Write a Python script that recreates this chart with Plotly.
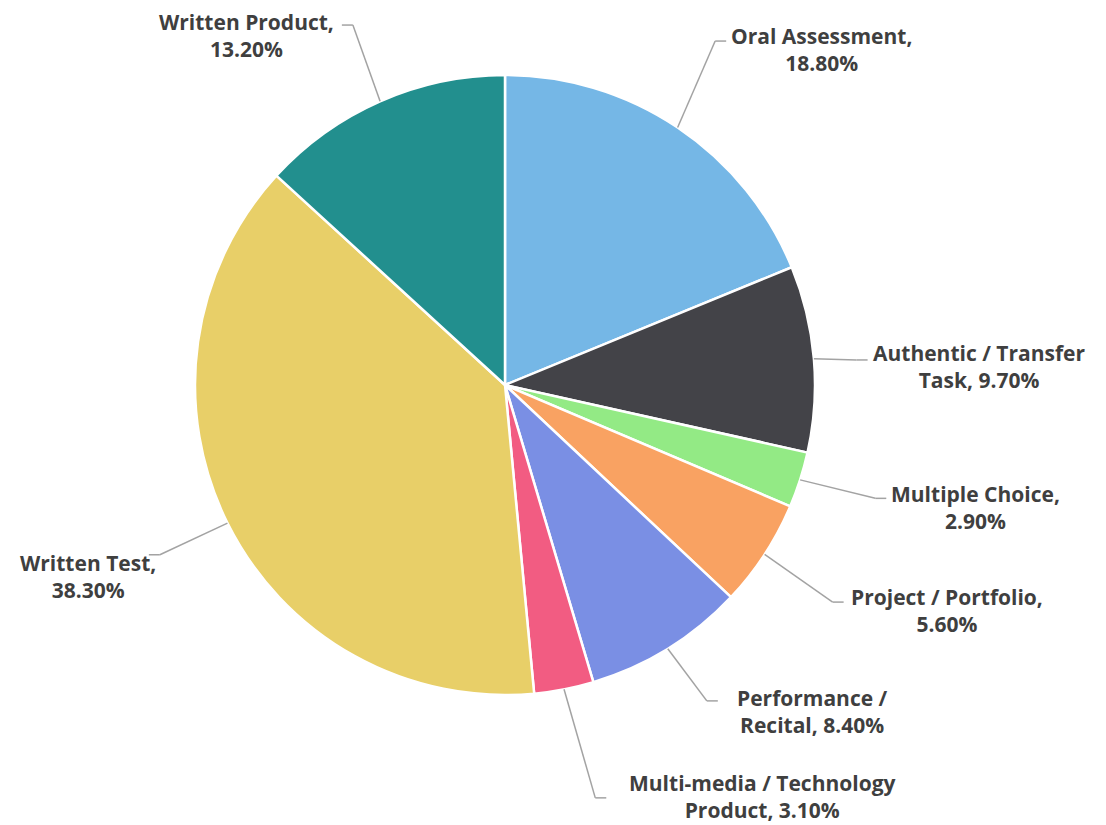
import math
import plotly.graph_objects as go

W, H = 1106, 825

categories = ["Oral Assessment", "Authentic / Transfer Task", "Multiple Choice",
              "Project / Portfolio", "Performance / Recital",
              "Multi-media / Technology Product", "Written Test", "Written Product"]
values = [18.8, 9.7, 2.9, 5.6, 8.4, 3.1, 38.3, 13.2]
colors = ["#75b7e6", "#434348", "#93ea85", "#f9a262", "#7a8fe4",
          "#f25c82", "#e8cf68", "#228f8e"]
# number of words placed on the first line of each data label
first_line_words = [2, 3, 2, 3, 2, 3, 2, 2]

# ---- layout / style parameters (pixels) ----
OFF = 8                      # page body margin in the browser
CX, CY, R = 505, 385, 310    # pie centre and radius
R_LABEL = 390                # nominal radius of the connector elbow
SEG = 11                     # horizontal connector segment length
# per-label elbow nudges (dx, dy), text gaps and vertical text offsets
elbow_nudge = [(-7, -20), (-37, 8), (-1, -6), (1, 4), (-3, -16), (16, 30), (4, -4), (5, -3)]
text_gap = [3, 3, 3, 5, 17, 21, -9, 6]
text_mid_dy = [8, 7, 9, 8, 11, -1, 22, 10]
FONT = dict(family="Open Sans", size=21, color="#3f3f3f")


def px(x):
    return (x - OFF) / W


def py(y):
    return 1 - (y - OFF) / H


fig = go.Figure(go.Pie(
    labels=categories, values=values, sort=False, direction="clockwise",
    rotation=0, textinfo="none", hoverinfo="label+percent",
    marker=dict(colors=colors, line=dict(color="white", width=2.5)),
    domain=dict(x=[px(CX - R), px(CX + R)], y=[py(CY + R), py(CY - R)]),
    showlegend=False,
))

total = sum(values)
shapes, annotations = [], []
cum = 0.0
for i, (cat, val, nfirst) in enumerate(zip(categories, values, first_line_words)):
    mid = (cum + val / 2) / total * 2 * math.pi
    cum += val
    s, c = math.sin(mid), math.cos(mid)
    ex, ey = CX + R * s, CY - R * c
    bx = CX + R_LABEL * s + elbow_nudge[i][0]
    by = CY - R_LABEL * c + elbow_nudge[i][1]
    side = 1 if s >= 0 else -1
    hx = bx + side * SEG
    line = dict(color="#a3a3a3", width=1.5)
    shapes.append(dict(type="line", xref="paper", yref="paper",
                       x0=px(ex), y0=py(ey), x1=px(bx), y1=py(by), line=line))
    shapes.append(dict(type="line", xref="paper", yref="paper",
                       x0=px(bx), y0=py(by), x1=px(hx), y1=py(by), line=line))
    words = f"{cat}, {val:.2f}%".split(" ")
    text = " ".join(words[:nfirst]) + "<br>" + " ".join(words[nfirst:])
    annotations.append(dict(
        xref="paper", yref="paper",
        x=px(hx + side * text_gap[i]), y=py(by + text_mid_dy[i]),
        xanchor="left" if side > 0 else "right", yanchor="middle",
        align="center", showarrow=False, text=f"<b>{text}</b>", font=FONT))

fig.update_layout(width=W, height=H, margin=dict(l=0, r=0, t=0, b=0),
                  paper_bgcolor="white", plot_bgcolor="white",
                  shapes=shapes, annotations=annotations)

fig.write_html("out.html")
